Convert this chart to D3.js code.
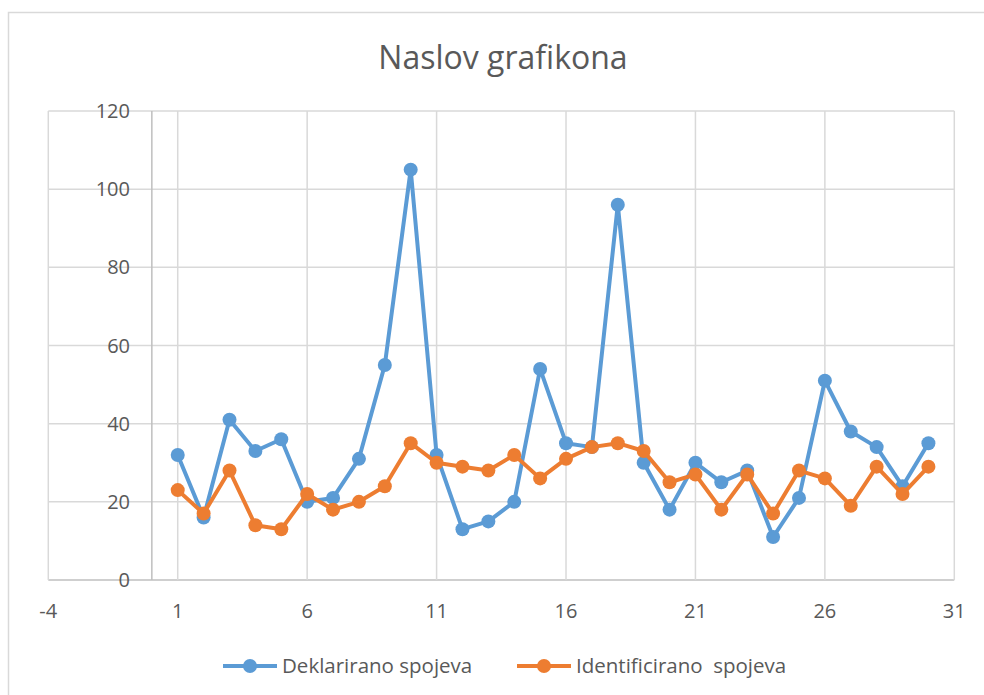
<!DOCTYPE html>
<html><head><meta charset="utf-8">
<script src="https://cdn.jsdelivr.net/npm/d3@7"></script>
<style>body{margin:0;background:#fff;} text{font-family:"Open Sans",sans-serif;}</style>
</head><body>
<svg id="c" width="984" height="695"></svg>
<script>
const title = "Naslov grafikona";
const seriesNames = ["Deklarirano spojeva", "Identificirano  spojeva"];
const seriesColors = ["#5B9BD5", "#ED7D31"];
const xValues = d3.range(1, 31);
const deklarirano = [32,16,41,33,36,20,21,31,55,105,32,13,15,20,54,35,34,96,30,18,30,25,28,11,21,51,38,34,24,35];
const identificirano = [23,17,28,14,13,22,18,20,24,35,30,29,28,32,26,31,34,35,33,25,27,18,27,17,28,26,19,29,22,29];
const xTicks = [-4,1,6,11,16,21,26,31];
const yTicks = [0,20,40,60,80,100,120];

const svg = d3.select("#c");
// chart border
svg.append("rect").attr("x",8.5).attr("y",12.5).attr("width",1000).attr("height",720)
  .attr("fill","#fff").attr("stroke","#D9D9D9").attr("stroke-width",1.5);

const x = d3.scaleLinear().domain([-4,31]).range([48.3,954.3]);
const y = d3.scaleLinear().domain([0,120]).range([580,111]);

const g = svg.append("g");
// horizontal grid
g.selectAll(".hg").data(yTicks).join("line")
  .attr("x1",x(-4)).attr("x2",x(31)).attr("y1",d=>y(d)).attr("y2",d=>y(d))
  .attr("stroke",d=>d===0?"#BFBFBF":"#D9D9D9").attr("stroke-width",1.5);
// vertical grid
g.selectAll(".vg").data(xTicks).join("line")
  .attr("x1",d=>x(d)).attr("x2",d=>x(d)).attr("y1",y(0)).attr("y2",y(120))
  .attr("stroke","#D9D9D9").attr("stroke-width",1.5);
// y axis line at x=0
g.append("line").attr("x1",x(0)).attr("x2",x(0)).attr("y1",y(0)).attr("y2",y(120))
  .attr("stroke","#BFBFBF").attr("stroke-width",1.5);

// y tick labels
g.selectAll(".yl").data(yTicks).join("text")
  .attr("x",130).attr("y",d=>y(d)).attr("dy","0.35em").attr("text-anchor","end")
  .attr("font-size",20).attr("fill","#595959").text(d=>d);
// x tick labels
g.selectAll(".xl").data(xTicks).join("text")
  .attr("x",d=>x(d)).attr("y",611).attr("dy","0.35em").attr("text-anchor","middle")
  .attr("font-size",20).attr("fill","#595959").text(d=>d);

// title
svg.append("text").attr("x",503).attr("y",58).attr("dy","0.35em").attr("text-anchor","middle")
  .attr("font-size",32).attr("fill","#595959").text(title);

const data = [deklarirano, identificirano];
const line = d3.line().x((d,i)=>x(xValues[i])).y(d=>y(d));
data.forEach((vals,k)=>{
  svg.append("path").datum(vals).attr("d",line).attr("fill","none")
    .attr("stroke",seriesColors[k]).attr("stroke-width",4).attr("stroke-linejoin","round");
  svg.append("g").selectAll("circle").data(vals).join("circle")
    .attr("cx",(d,i)=>x(xValues[i])).attr("cy",d=>y(d)).attr("r",7)
    .attr("fill",seriesColors[k]);
});

// legend
const legX = [223, 517];
const legY = 666;
seriesNames.forEach((name,k)=>{
  const lg = svg.append("g");
  lg.append("line").attr("x1",legX[k]).attr("x2",legX[k]+54).attr("y1",legY).attr("y2",legY)
    .attr("stroke",seriesColors[k]).attr("stroke-width",4);
  lg.append("circle").attr("cx",legX[k]+27).attr("cy",legY).attr("r",7).attr("fill",seriesColors[k]);
  lg.append("text").attr("x",legX[k]+59).attr("y",legY).attr("dy","0.35em")
    .attr("font-size",20.5).attr("fill","#595959").style("white-space","pre").text(name);
});
</script>
</body></html>
